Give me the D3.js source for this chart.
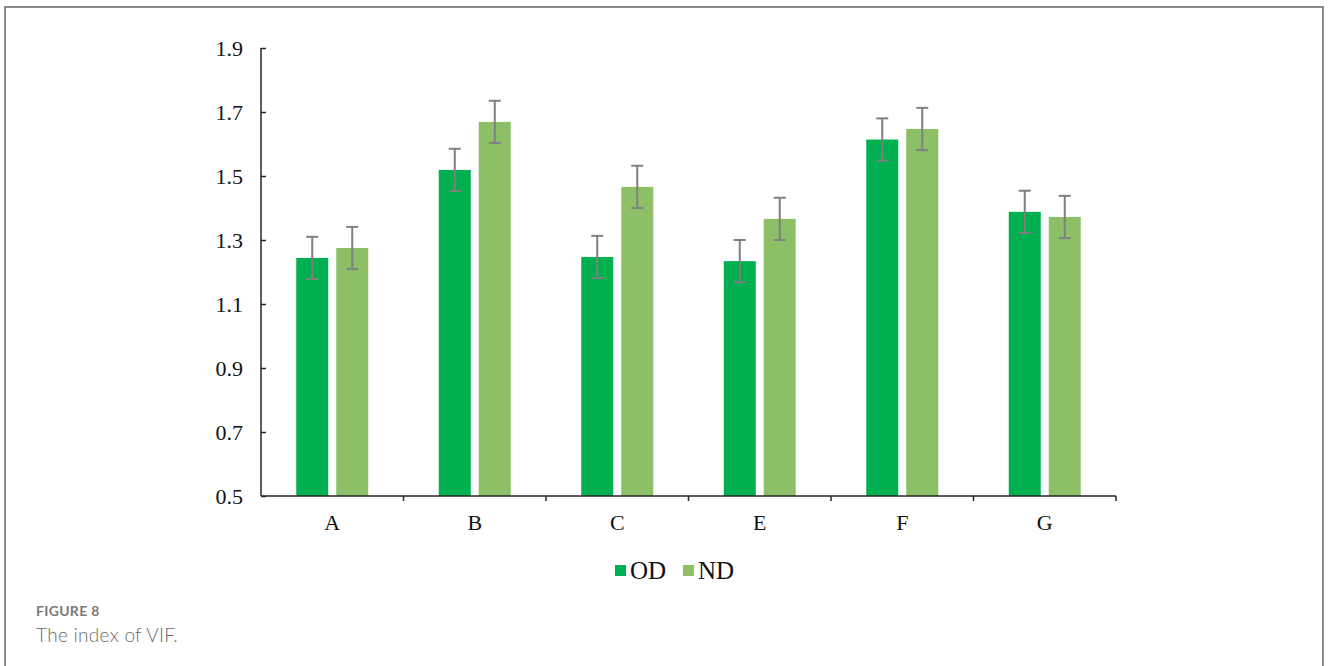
<!DOCTYPE html>
<html>
<head>
<meta charset="utf-8">
<script src="https://cdn.jsdelivr.net/npm/d3@7"></script>
<style>
  body { margin: 0; background: #fff; }
  #frame { position: absolute; left: 4px; top: 6px; width: 1320px; height: 680px; border: 2px solid #8a8a8a; border-bottom: none; box-sizing: border-box; }
  .fig-label { position: absolute; left: 36px; top: 602px; font-family: "Lato", "Open Sans", sans-serif; font-size: 14px; font-weight: 700; color: #7a7a7a; letter-spacing: 0.3px; }
  .fig-title { position: absolute; left: 36px; top: 623px; font-family: "Lato", "Open Sans", sans-serif; font-size: 19px; font-weight: 300; color: #6a6a6a; letter-spacing: 0.3px; }
</style>
</head>
<body>
<div id="frame"></div>
<svg id="chart" width="1328" height="666" style="position:absolute;left:0;top:0"></svg>
<div class="fig-label">FIGURE 8</div>
<div class="fig-title">The index of VIF.</div>
<script>
// data
const categories = ["A", "B", "C", "E", "F", "G"];
const seriesNames = ["OD", "ND"];
const odValues = [1.244, 1.519, 1.247, 1.234, 1.614, 1.388];
const ndValues = [1.275, 1.669, 1.466, 1.366, 1.647, 1.372];
const odErrors = [0.066, 0.066, 0.066, 0.066, 0.066, 0.066];
const ndErrors = [0.066, 0.066, 0.066, 0.066, 0.066, 0.066];
const yTicks = [0.5, 0.7, 0.9, 1.1, 1.3, 1.5, 1.7, 1.9];

const colors = {OD: "#00b050", ND: "#8dc066"};
const serif = "'Liberation Serif', 'Times New Roman', serif";

const svg = d3.select("#chart");

const margin = {left: 261, right: 212, top: 48, bottom: 170};
const width = 1328 - margin.left - margin.right;
const height = 666 - margin.top - margin.bottom;

const g = svg.append("g")
  .attr("transform", "translate(" + margin.left + "," + margin.top + ")");

const x = d3.scaleBand()
  .domain(categories)
  .range([0, width]);

const y = d3.scaleLinear()
  .domain([0.5, 1.9])
  .range([height, 0]);

const barW = 32, gap = 8;

// combine into rows
const rows = [];
categories.forEach((c, i) => {
  rows.push({cat: c, s: "OD", v: odValues[i], e: odErrors[i], off: -gap / 2 - barW});
  rows.push({cat: c, s: "ND", v: ndValues[i], e: ndErrors[i], off: gap / 2});
});

g.selectAll("rect.bar")
  .data(rows)
  .enter()
  .append("rect")
    .attr("class", "bar")
    .attr("x", d => x(d.cat) + x.bandwidth() / 2 + d.off)
    .attr("y", d => y(d.v))
    .attr("width", barW)
    .attr("height", d => height - y(d.v))
    .attr("fill", d => colors[d.s]);

// error bars
const err = g.selectAll("g.err")
  .data(rows)
  .enter()
  .append("g")
    .attr("class", "err")
    .attr("transform", d => "translate(" + (x(d.cat) + x.bandwidth() / 2 + d.off + barW / 2) + ",0)")
    .attr("stroke", "#7f7f7f")
    .attr("stroke-width", 2);

err.append("line")
  .attr("y1", d => y(d.v + d.e))
  .attr("y2", d => y(d.v - d.e));
err.append("line")
  .attr("x1", -6).attr("x2", 6)
  .attr("y1", d => y(d.v + d.e)).attr("y2", d => y(d.v + d.e));
err.append("line")
  .attr("x1", -6).attr("x2", 6)
  .attr("y1", d => y(d.v - d.e)).attr("y2", d => y(d.v - d.e));

// y axis
const yAxis = g.append("g")
  .call(d3.axisLeft(y).tickValues(yTicks).tickFormat(d3.format(".1f")).tickSize(-5).tickPadding(18));
yAxis.select(".domain").attr("d", "M0,0V" + height).attr("stroke", "#262626").attr("stroke-width", 1.5);
yAxis.selectAll(".tick line").attr("stroke", "#262626").attr("stroke-width", 1.5);
yAxis.selectAll(".tick text")
  .attr("font-family", serif).attr("font-size", 22).attr("fill", "#111");

// x axis
const xAxis = g.append("g")
  .attr("transform", "translate(0," + height + ")")
  .call(d3.axisBottom(x).tickSize(0).tickPadding(18));
xAxis.select(".domain").attr("d", "M0,0H" + width).attr("stroke", "#262626").attr("stroke-width", 1.5);
xAxis.selectAll(".tick text")
  .attr("font-family", serif).attr("font-size", 22).attr("fill", "#111");
xAxis.selectAll("line.sep")
  .data(categories.map((c, i) => i + 1))
  .enter()
  .append("line")
    .attr("class", "sep")
    .attr("x1", d => d * x.step()).attr("x2", d => d * x.step())
    .attr("y1", 0).attr("y2", 5)
    .attr("stroke", "#262626").attr("stroke-width", 1.5);

// legend
const legend = svg.append("g").attr("transform", "translate(615,571)");
const legendX = [0, 68];
seriesNames.forEach((s, i) => {
  const item = legend.append("g").attr("transform", "translate(" + legendX[i] + ",0)");
  item.append("rect")
    .attr("x", 0).attr("y", -6).attr("width", 11).attr("height", 11)
    .attr("fill", colors[s]);
  item.append("text")
    .attr("x", 15).attr("y", 8)
    .attr("font-family", serif).attr("font-size", 25).attr("fill", "#111")
    .text(s);
});
</script>
</body>
</html>
